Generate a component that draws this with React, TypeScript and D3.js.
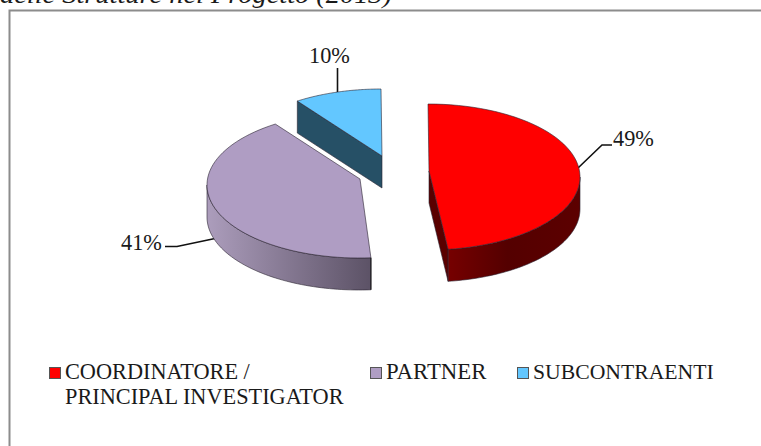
import React from "react";
import * as d3 from "d3";

const categories = ["COORDINATORE /\nPRINCIPAL INVESTIGATOR", "PARTNER", "SUBCONTRAENTI"];
const shares = [49, 41, 10];
const topColors = ["#ff0000", "#af9dc3", "#63c7ff"];
const titleText = "delle Strutture nel Progetto (2013)";

const W = 761, H = 446;
const RX = 152, RY = 73, DEPTH = 32, APEX = 6;
// Ellipse centre of each exploded slice, in slice order
const centres: [number, number][] = [[428, 177], [359, 185], [381, 162]];
const FONT = "'Liberation Serif', 'Times New Roman', serif";

// The picture's 3D projection bends the slice angles a little
const deg = (d: number) => (d * Math.PI) / 180;
const warp = d3.scaleLinear()
  .domain([0, 0.49, 0.90, 1].map((f) => f * 2 * Math.PI))
  .range([0, 172.4, 326.6, 360].map(deg));

const arcs = d3.pie<number>().sort(null).value((d) => d)(shares).map((a) => ({
  ...a, a0: warp(a.startAngle), a1: warp(a.endAngle),
}));

const rim = (c: [number, number], a: number, dy = 0): [number, number] =>
  [c[0] + RX * Math.sin(a), c[1] - RY * Math.cos(a) + dy];
const line = d3.line<[number, number]>();
const samples = (a0: number, a1: number) => d3.range(61).map((i) => a0 + ((a1 - a0) * i) / 60);

const topPath = (c: [number, number], a0: number, a1: number) => {
  const apex: [number, number] = [c[0] + 1, c[1] - APEX];
  return line([apex, ...samples(a0, a1).map((a) => rim(c, a))]) + "Z";
};
const sidePath = (c: [number, number], a0: number, a1: number) => {
  const s = samples(a0, a1);
  return line([...s.map((a) => rim(c, a)), ...s.slice().reverse().map((a) => rim(c, a, DEPTH))]) + "Z";
};
const cutPath = (c: [number, number], a: number) => {
  const apex: [number, number] = [c[0] + 1, c[1] - APEX];
  const r = rim(c, a);
  return line([apex, r, [r[0], r[1] + DEPTH], [apex[0], apex[1] + DEPTH]]) + "Z";
};

const stroke = { stroke: "#2a2430", strokeWidth: 0.8, strokeOpacity: 0.75 };
const textStyle = { fontFamily: FONT, fontSize: 22.3, fill: "#1a1a1a" };

export default function App() {
  const [red, purple, blue] = arcs;
  const [cr, cp, cb] = centres;
  return (
    <svg width={W} height={H} style={{ position: "absolute", left: 0, top: 0, background: "#fff" }}>
      <defs>
        <linearGradient id="sideRed" gradientUnits="userSpaceOnUse" x1={448} x2={580} y1={0} y2={0}>
          <stop offset="0" stopColor="#760000" />
          <stop offset="0.45" stopColor="#540000" />
          <stop offset="1" stopColor="#5c0000" />
        </linearGradient>
        <linearGradient id="sidePurple" gradientUnits="userSpaceOnUse" x1={207} x2={371} y1={0} y2={0}>
          <stop offset="0" stopColor="#ac9dbc" />
          <stop offset="1" stopColor="#5c5266" />
        </linearGradient>
      </defs>

      <text x={0} y={3} textLength={392} lengthAdjust="spacingAndGlyphs" fontFamily={FONT} fontStyle="italic" fontSize={26} fill="#1a1a1a">
        {titleText}
      </text>
      <path d={`M${W},10.5H9.5V${H}`} fill="none" stroke="#8c8c8c" strokeWidth={2} />

      {/* leader lines */}
      <path d="M578,168L602,145H612" fill="none" stroke="#111" strokeWidth={1.6} />
      <path d="M165,246.5H177L215,238.5" fill="none" stroke="#111" strokeWidth={1.6} />
      <path d="M337.5,68V93" fill="none" stroke="#111" strokeWidth={1.6} />

      {/* blue slice */}
      <path d={cutPath(cb, blue.a0)} fill="#265066" {...stroke} />
      <path d={topPath(cb, blue.a0, blue.a1)} fill={topColors[2]} {...stroke} />

      {/* purple slice */}
      <path d={sidePath(cp, deg(175.5), deg(270))} fill="url(#sidePurple)" {...stroke} />
      <path d={topPath(cp, deg(175.5), purple.a1)} fill={topColors[1]} {...stroke} />
      <path d={`M${rim(cp, deg(175.5))[0]},${rim(cp, deg(175.5))[1]}v${DEPTH}`} stroke="#111" strokeWidth={1} />

      {/* red slice */}
      <path d={cutPath(cr, red.a1)} fill="#5a0000" {...stroke} />
      <path d={sidePath(cr, deg(90), red.a1)} fill="url(#sideRed)" {...stroke} />
      <path d={topPath(cr, red.a0, red.a1)} fill={topColors[0]} {...stroke} />

      {/* data labels */}
      <text x={613} y={146} {...textStyle}>{shares[0]}%</text>
      <text x={121} y={250} {...textStyle}>{shares[1]}%</text>
      <text x={309} y={63} {...textStyle}>{shares[2]}%</text>

      {/* legend */}
      {categories.map((c, i) => {
        const x = [49, 370, 517][i];
        const size = [22.3, 22.8, 21.7][i];
        return (
          <g key={c}>
            <rect x={x + 0.5} y={367.5} width={11} height={11} fill={topColors[i]} stroke="#555" strokeWidth={1} />
            {c.split("\n").map((t, j) => (
              <text key={t} x={x + 16} y={379 + j * 25} {...textStyle} fontSize={size}>{t}</text>
            ))}
          </g>
        );
      })}
    </svg>
  );
}
